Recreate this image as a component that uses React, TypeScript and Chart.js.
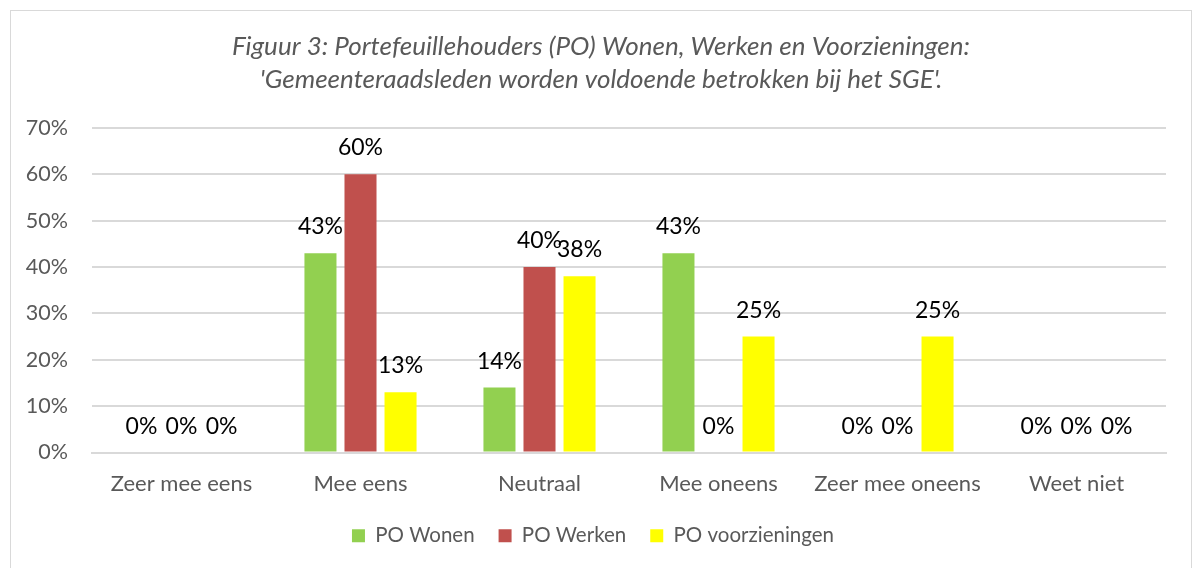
import React, { useEffect, useRef } from "react";
import { Chart, registerables } from "chart.js";

Chart.register(...registerables);

const categories = ["Zeer mee eens", "Mee eens", "Neutraal", "Mee oneens", "Zeer mee oneens", "Weet niet"];
const poWonen = [0, 43, 14, 43, 0, 0];
const poWerken = [0, 60, 40, 0, 0, 0];
const poVoorzieningen = [0, 13, 38, 25, 25, 0];
const titleLines = [
  "Figuur 3: Portefeuillehouders (PO) Wonen, Werken en Voorzieningen:",
  "'Gemeenteraadsleden worden voldoende betrokken bij het SGE'.",
];

const FONT = "Lato, 'Open Sans', sans-serif";

const labelPlugin = {
  id: "valueLabels",
  afterDatasetsDraw(chart: any) {
    const ctx = chart.ctx;
    ctx.save();
    ctx.font = `23px ${FONT}`;
    ctx.fillStyle = "#000000";
    ctx.textAlign = "center";
    ctx.textBaseline = "alphabetic";
    chart.data.datasets.forEach((ds: any, i: number) => {
      const meta = chart.getDatasetMeta(i);
      meta.data.forEach((el: any, j: number) => {
        ctx.fillText(ds.data[j] + "%", el.x, el.y - 19);
      });
    });
    ctx.restore();
  },
};

const titlePlugin = {
  id: "centeredTitle",
  afterDraw(chart: any) {
    const ctx = chart.ctx;
    ctx.save();
    ctx.font = `italic 26px ${FONT}`;
    ctx.fillStyle = "#595959";
    ctx.textAlign = "center";
    ctx.textBaseline = "middle";
    titleLines.forEach((line, i) => {
      ctx.fillText(line, 601, 47 + i * 33);
    });
    ctx.restore();
  },
};

export default function App() {
  const ref = useRef<HTMLCanvasElement | null>(null);
  useEffect(() => {
    if (!ref.current) return;
    const chart = new Chart(ref.current, {
      type: "bar",
      data: {
        labels: categories,
        datasets: [
          { label: "PO Wonen", data: poWonen, backgroundColor: "#92D050" },
          { label: "PO Werken", data: poWerken, backgroundColor: "#C0504D" },
          { label: "PO voorzieningen", data: poVoorzieningen, backgroundColor: "#FFFF00" },
        ],
      },
      options: {
        responsive: false,
        animation: false,
        layout: { padding: { left: 20, right: 28, top: 128, bottom: 12 } },
        datasets: {
          bar: { categoryPercentage: 0.671, barPercentage: 0.8 },
        },
        plugins: {
          title: { display: false },
          legend: {
            position: "bottom",
            labels: {
              color: "#595959",
              font: { family: FONT, size: 20.5 },
              boxWidth: 13,
              boxHeight: 13,
              padding: 24,
            },
          },
          tooltip: { enabled: false },
        },
        scales: {
          x: {
            afterFit(scale: any) { scale.height = 49; },
            grid: { display: false, drawTicks: false },
            border: { color: "#d9d9d9", width: 2 },
            ticks: { color: "#595959", font: { family: FONT, size: 22 }, padding: 18 },
          },
          y: {
            min: 0,
            max: 70,
            afterFit(scale: any) { scale.width = 72; },
            grid: { color: "#d9d9d9", lineWidth: 2, drawTicks: false },
            border: { display: false },
            ticks: {
              stepSize: 10,
              color: "#595959",
              font: { family: FONT, size: 21.5 },
              padding: 24,
              callback: (v: any) => v + "%",
            },
          },
        },
      },
      plugins: [labelPlugin, titlePlugin],
    });
    return () => chart.destroy();
  }, []);
  return (
    <div style={{ position: "fixed", left: 0, top: 0, width: 1194, height: 568, background: "#fff", overflow: "hidden" }}>
      <div style={{ position: "absolute", left: 10, top: 10, width: 1182, height: 600, border: "1px solid #d9d9d9", boxSizing: "border-box" }} />
      <canvas ref={ref} width={1194} height={568} style={{ position: "absolute", left: 0, top: 0 }} />
    </div>
  );
}
